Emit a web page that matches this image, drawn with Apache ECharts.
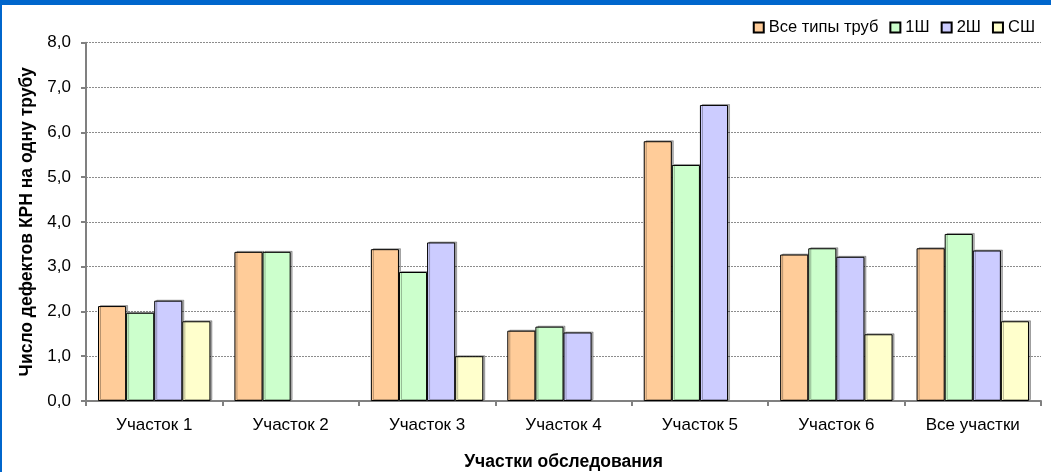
<!DOCTYPE html>
<html>
<head>
<meta charset="utf-8">
<title>Число дефектов КРН на одну трубу</title>
<script src="https://cdn.jsdelivr.net/npm/echarts@6/dist/echarts.min.js"></script>
<style>
  html, body { margin: 0; padding: 0; background: #ffffff; }
  #wrap { position: relative; width: 1051px; height: 472px; overflow: hidden; }
  #chart { position: absolute; left: 0; top: 0; width: 1051px; height: 472px; }
  #frame { position: absolute; left: 0; top: 0; width: 1051px; height: 472px; box-sizing: border-box;
           border-top: 5px solid #0066cc; border-left: 2px solid #0066cc; pointer-events: none; }
</style>
</head>
<body>
<div id="wrap">
  <div id="chart"></div>
  <div id="frame"></div>
</div>
<script>
// Survey sections along the x axis
const categories = ['Участок 1', 'Участок 2', 'Участок 3', 'Участок 4', 'Участок 5', 'Участок 6', 'Все участки'];

// Defects per pipe, by pipe type (null = no pipes of that type in the section)
const allTypes = [2.12, 3.33, 3.39, 1.57, 5.80, 3.27, 3.41];
const type1 = [1.97, 3.33, 2.88, 1.66, 5.27, 3.41, 3.73];
const type2 = [2.24, null, 3.54, 1.53, 6.61, 3.22, 3.36];
const typeS = [1.78, null, 1.00, null, null, 1.49, 1.78];

const seriesNames = ['Все типы труб', '1Ш', '2Ш', 'СШ'];
const seriesColors = ['#ffcc99', '#ccffcc', '#ccccff', '#ffffcc'];
const seriesData = [allTypes, type1, type2, typeS];

const font = '"Liberation Sans", Arial, sans-serif';

const chart = echarts.init(document.getElementById('chart'), null, { renderer: 'canvas' });

chart.setOption({
  animation: false,
  backgroundColor: '#ffffff',
  textStyle: { fontFamily: font, color: '#000000' },
  grid: { left: 86, right: 10, top: 42.7, bottom: 71, containLabel: false, outerBoundsMode: 'none' },
  legend: {
    right: 11,
    top: 14,
    itemWidth: 10,
    itemHeight: 10,
    itemGap: 11,
    icon: 'rect',
    textStyle: { fontFamily: font, fontSize: 16.5, color: '#000000' },
    data: seriesNames
  },
  xAxis: {
    type: 'category',
    data: categories,
    name: 'Участки обследования',
    nameLocation: 'middle',
    nameGap: 52,
    nameTextStyle: { fontFamily: font, fontSize: 17.5, fontWeight: 'bold', color: '#000000' },
    axisLine: { lineStyle: { color: '#808080', width: 2 } },
    axisTick: { show: true, length: 5, lineStyle: { color: '#808080', width: 2 } },
    axisLabel: { fontFamily: font, fontSize: 17, color: '#000000', margin: 16 }
  },
  yAxis: {
    type: 'value',
    min: 0,
    max: 8,
    interval: 1,
    name: 'Число дефектов КРН на одну трубу',
    nameLocation: 'middle',
    nameGap: 48,
    nameTextStyle: { fontFamily: font, fontSize: 17.5, fontWeight: 'bold', color: '#000000' },
    axisLine: { show: true, lineStyle: { color: '#808080', width: 2 } },
    axisTick: { show: true, length: 5, lineStyle: { color: '#808080', width: 2 } },
    axisLabel: {
      fontFamily: font, fontSize: 17, color: '#000000', margin: 15,
      formatter: v => v.toFixed(1).replace('.', ',')
    },
    splitLine: { show: true, lineStyle: { color: '#8c8c8c', width: 1, type: [2, 1] } }
  },
  series: seriesNames.map((name, i) => ({
    name: name,
    type: 'bar',
    data: seriesData[i],
    barGap: '0%',
    barCategoryGap: '17.6%',
    itemStyle: {
      color: seriesColors[i],
      borderColor: '#000000',
      borderWidth: 1,
      shadowColor: 'rgba(0,0,0,0.28)',
      shadowOffsetX: 2,
      shadowOffsetY: -1,
      shadowBlur: 0
    },
    emphasis: { disabled: true }
  }))
});
</script>
</body>
</html>
